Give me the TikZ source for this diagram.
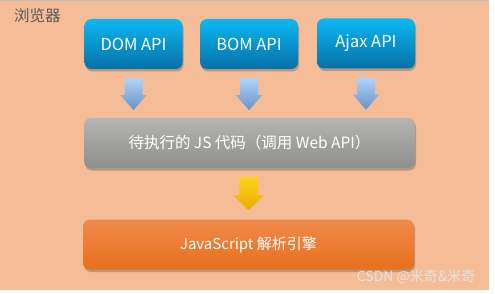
\documentclass[tikz,border=0pt]{standalone}
\usepackage{fontspec}
\setmainfont{Noto Sans CJK SC}
\usetikzlibrary{shadows,fadings}
\definecolor{peach}{HTML}{F4BD97}
\definecolor{bluetop}{HTML}{0CB8F2}
\definecolor{bluebot}{HTML}{0670A8}
\definecolor{graytop}{HTML}{B4B4B2}
\definecolor{graybot}{HTML}{8E8E8C}
\definecolor{orgtop}{HTML}{F08A4C}
\definecolor{orgbot}{HTML}{E8701C}
\definecolor{arrtop}{HTML}{AED4FA}
\definecolor{arrbot}{HTML}{6A92C4}
\definecolor{yeltop}{HTML}{FFD21C}
\definecolor{yelbot}{HTML}{E8AE00}
\tikzset{
  x=1pt, y=-1pt,
  boxbase/.style={rounded corners=7pt, minimum height=50pt, inner sep=0pt,
    text=white, font=\fontsize{15}{18}\selectfont,
    drop shadow={shadow xshift=1pt, shadow yshift=-2.5pt, opacity=0.35, fill=black!70}},
  apibox/.style={boxbase, minimum width=98pt, top color=bluetop, bottom color=bluebot, font=\fontsize{16.5}{19}\selectfont},
  codebox/.style={boxbase, minimum width=331pt, top color=graytop, bottom color=graybot, font=\fontsize{15.5}{18}\selectfont},
  enginebox/.style={boxbase, minimum width=331pt, top color=orgtop, bottom color=orgbot},
  bluearrow/.style={top color=arrtop, bottom color=arrbot, draw=none},
  yelarrow/.style={top color=yeltop, bottom color=yelbot, draw=none},
}
\begin{document}
\begin{tikzpicture}
\useasboundingbox (0,0) rectangle (495,294);
\fill[white] (0,0) rectangle (495,294);
\fill[peach] (0,0) rectangle (489,290);
\fill[black!25] (0,0) rectangle (489,1.5);
\node[anchor=west, text=black!65, font=\fontsize{15.5}{17}\selectfont] (title) at (10.5,15.5) {浏览器};
\node[apibox] (dom) at (133.5,44) {DOM API};
\node[apibox] (bom) at (249,44) {BOM API};
\node[apibox] (ajax) at (366,43.5) {Ajax API};
\node[codebox] (code) at (249.5,143) {待执行的 JS 代码（调用 Web API）};
\node[enginebox] (engine) at (248.5,244.5) {JavaScript 解析引擎};
% blue arrows
\foreach \n in {dom,bom,ajax}{
  \path (\n.south) ++(0,9) coordinate (\n-a);
  \shade[bluearrow] (\n-a) ++(-9,0) -- ++(18,0) -- ++(0,17) -- ++(4,0) -- ++(-13,15) -- ++(-13,-15) -- ++(4,0) -- cycle;
}
\path (code.south) ++(-1,9) coordinate (c-a);
\shade[yelarrow] (c-a) ++(-9.5,0) -- ++(19,0) -- ++(0,18) -- ++(6,0) -- ++(-15.5,15) -- ++(-15.5,-15) -- ++(6,0) -- cycle;
\node[anchor=east, text=white!90!black, opacity=0.9, font=\fontsize{14}{16}\selectfont] (wm) at (479,277) {CSDN @米奇\&米奇};
\end{tikzpicture}
\end{document}
